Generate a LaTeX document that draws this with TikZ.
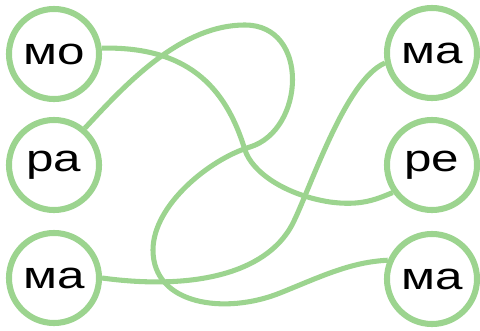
\documentclass[tikz,border=0pt]{standalone}
\usepackage{fontspec}
\setmainfont{Liberation Sans}[FakeStretch=1.3]
\usepackage{xcolor}
\usepackage{tikz}
\definecolor{mSoftGreen}{HTML}{9CD48F}

\begin{document}
\begin{tikzpicture}[x=0.025cm, y=-0.025cm,
    syl/.style={draw=mSoftGreen, line width=4.3pt, circle, minimum size=2.25cm, inner sep=0pt, font=\fontsize{27}{30}\selectfont},
    link/.style={draw=mSoftGreen, line width=3.6pt}]
    \useasboundingbox (0,0) rectangle (480,330);
    % left column
    \node[syl] (mo) at (54,54) {мо};
    \node[syl] (ra) at (54,165) {ра};
    \node[syl] (maL) at (54,278) {ма};
    % right column
    \node[syl] (maT) at (432,53) {ма};
    \node[syl] (re) at (432,165) {ре};
    \node[syl] (maB) at (432,279) {ма};
    % links
    \draw[link] (mo.7) .. controls (195,46) and (228,95) .. (245,150)
        .. controls (252,172) and (285,195) .. (330,202)
        .. controls (360,206) and (375,200) .. (re.215);
    \draw[link] (ra.50) .. controls (125,85) and (180,25) .. (245,25)
        .. controls (310,25) and (305,130) .. (250,147)
        .. controls (210,159) and (153,205) .. (153,250)
        .. controls (153,305) and (225,315) .. (280,293)
        .. controls (320,277) and (350,262) .. (maB.157);
    \draw[link] (maL.east) .. controls (190,290) and (265,275) .. (292,225)
        .. controls (310,190) and (345,80) .. (maT.192);
\end{tikzpicture}
\end{document}
